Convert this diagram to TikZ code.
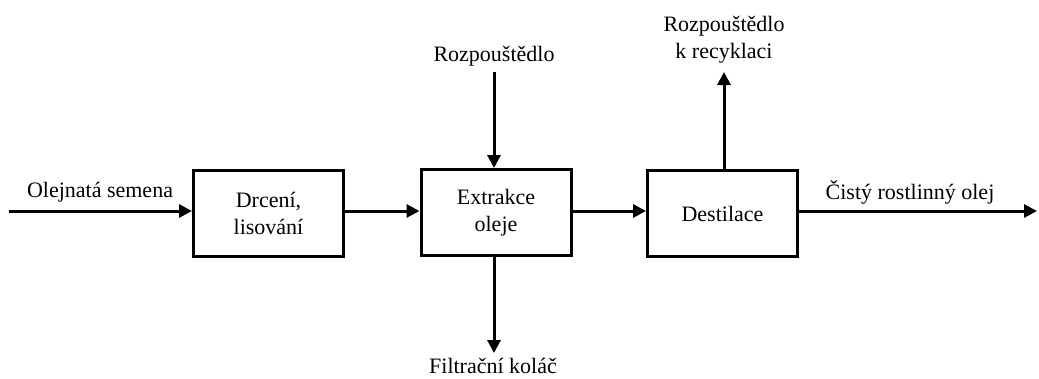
\documentclass[tikz,border=0pt]{standalone}
\usepackage{fontspec}
\setmainfont{LiberationSerif-Regular.ttf}
\newfontfamily\tnr{LiberationSerif-Regular.ttf}
\usetikzlibrary{arrows.meta}
\begin{document}
\begin{tikzpicture}[x=1pt,y=-1pt,
  proc/.style={draw,line width=3pt,minimum width=150pt,minimum height=86pt,align=center,font=\tnr\fontsize{22}{27}\selectfont,inner sep=0pt},
  lbl/.style={align=center,font=\tnr\fontsize{22}{27}\selectfont,inner sep=0pt},
  flow/.style={line width=3pt,-{Triangle[length=13pt,width=13pt]}}]
\useasboundingbox (0,0) rectangle (1039,378);
\node[proc] (b1) at (268.5,213) {Drcení,\\lisování};
\node[proc] (b2) at (496,212.5) {Extrakce\\oleje};
\node[proc] (b3) at (722.5,213.5) {Destilace};
\coordinate (in) at (9,211);
\coordinate (out) at (1037,211);
\coordinate (top2) at (494,72);
\coordinate (bot2) at (494,353);
\coordinate (top3) at (724,72);
\node[lbl] (tIn) at (100,192) {Olejnatá semena};
\node[lbl] (tSolv) at (494,56) {Rozpouštědlo};
\node[lbl] (tCake) at (493,366) {Filtrační koláč};
\node[lbl] (tRec) at (724,40) {Rozpouštědlo\\k recyklaci};
\node[lbl] (tOut) at (910,192) {Čistý rostlinný olej};
\draw[flow] (in) -- (b1.west |- in);
\draw[flow] (b1.east |- in) -- (b2.west |- in);
\draw[flow] (b2.east |- in) -- (b3.west |- in);
\draw[flow] (b3.east |- in) -- (out);
\draw[flow] (top2) -- (top2 |- b2.north);
\draw[flow] (bot2 |- b2.south) -- (bot2);
\draw[flow] (top3 |- b3.north) -- (top3);
\end{tikzpicture}
\end{document}
